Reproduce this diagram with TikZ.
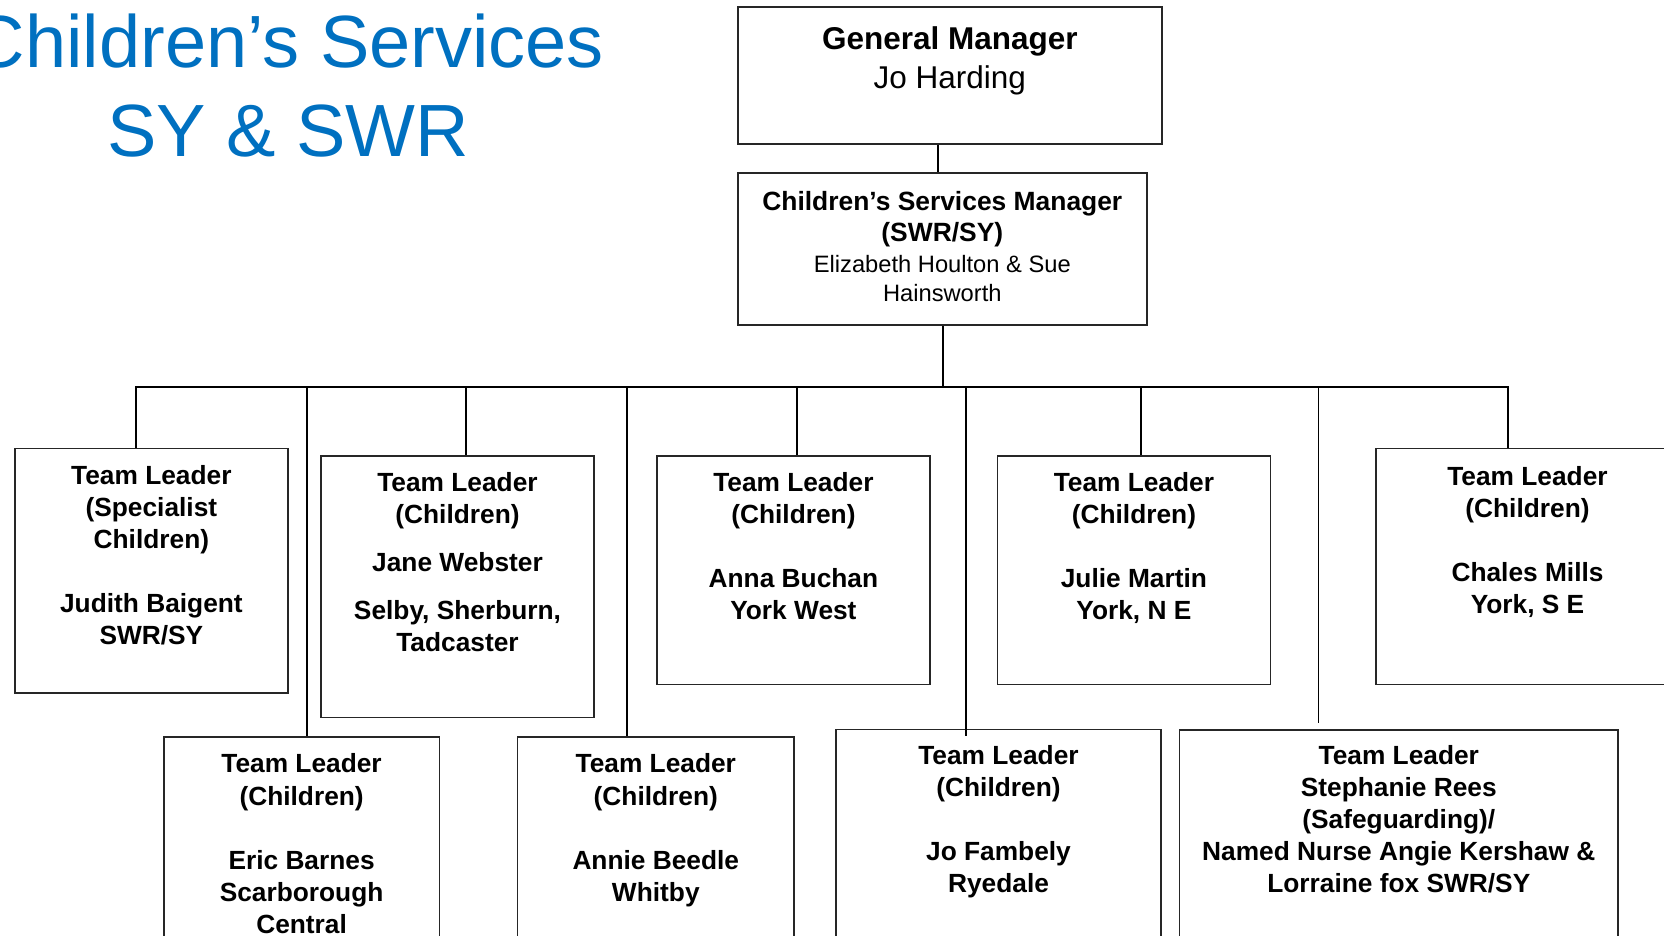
\documentclass[tikz,border=0pt]{standalone}
\usepackage{fontspec}
\setmainfont{Liberation Sans}
\usetikzlibrary{fit}
\definecolor{titleblue}{RGB}{0,112,192}
\tikzset{
  box/.style={draw=black!85, line width=0.8pt, inner sep=0pt},
  conn/.style={draw=black, line width=0.85pt},
  thickconn/.style={draw=black, line width=1.2pt},
  tltext/.style={font=\bfseries\fontsize{13.15pt}{16.05pt}\selectfont, align=center, anchor=north, inner sep=0pt},
  gmtext/.style={font=\fontsize{15.75pt}{19.6pt}\selectfont, align=center, anchor=north, inner sep=0pt},
  csmbold/.style={font=\bfseries\fontsize{13.2pt}{15.6pt}\selectfont, align=center, anchor=north, inner sep=0pt},
  csmreg/.style={font=\fontsize{11.85pt}{14.6pt}\selectfont, align=center, anchor=north, inner sep=0pt},
  titletext/.style={font=\fontsize{37pt}{44.65pt}\selectfont, text=titleblue, align=center, anchor=north, inner sep=0pt}
}
\begin{document}
\begin{tikzpicture}[x=0.5pt,y=-0.5pt,line join=miter]
\useasboundingbox (0,0) rectangle (1664,936);
\clip (0,0) rectangle (1664,936);

% title
\node[titletext] (title) at (288,13) {Children’s Services\\SY \& SWR};

% top boxes
\node[box, fit={(737.7,7.3) (1162,144)}] (GM) {};
\node[gmtext] (GMt) at (949.8,26.5) {{\bfseries General Manager}\\Jo Harding};

\node[box, fit={(738,173.3) (1146.7,325)}] (CSM) {};
\node[csmbold] (CSMt) at (942.3,191) {Children’s Services Manager\\(SWR/SY)};
\node[csmreg] (CSMn) at (942.3,254.5) {Elizabeth Houlton \& Sue\\Hainsworth};

% row 1 boxes
\node[box, fit={(14.7,448.3) (288,692.7)}] (A) {};
\node[box, fit={(321,455.7) (594,717.3)}] (B) {};
\node[box, fit={(656.7,455.7) (930,684.3)}] (C) {};
\node[box, fit={(997.3,455.7) (1270.5,684.3)}] (D) {};
\node[box, fit={(1376,448.3) (1679,684.3)}] (E) {};

% row 2 boxes
\node[box, fit={(163.7,736.7) (439.6,970)}] (F) {};
\node[box, fit={(517.6,736.7) (794,970)}] (G) {};
\node[box, fit={(836,729.3) (1161,970)}] (H) {};
\node[box, fit={(1179.5,730) (1618,970)}] (I) {};

% texts
\node[tltext] (At) at (151.4,465) {Team Leader\\(Specialist\\Children)\\[16.05pt]Judith Baigent\\SWR/SY};
\node[tltext] (Bt) at (457.5,472) {Team Leader\\(Children)\\[8pt]Jane Webster\\[8pt]Selby, Sherburn,\\Tadcaster};
\node[tltext] (Ct) at (793.4,472) {Team Leader\\(Children)\\[16.05pt]Anna Buchan\\York West};
\node[tltext] (Dt) at (1133.9,472) {Team Leader\\(Children)\\[16.05pt]Julie Martin\\York, N E};
\node[tltext] (Et) at (1527.5,466) {Team Leader\\(Children)\\[16.05pt]Chales Mills\\York, S E};
\node[tltext] (Ft) at (301.6,753.5) {Team Leader\\(Children)\\[16.05pt]Eric Barnes\\Scarborough\\Central};
\node[tltext] (Gt) at (655.8,753.5) {Team Leader\\(Children)\\[16.05pt]Annie Beedle\\Whitby};
\node[tltext] (Ht) at (998.5,745) {Team Leader\\(Children)\\[16.05pt]Jo Fambely\\Ryedale};
\node[tltext] (It) at (1398.8,745) {Team Leader\\Stephanie Rees\\(Safeguarding)/\\Named Nurse Angie Kershaw \&\\Lorraine fox SWR/SY};

% connectors
\coordinate (busL) at (135.7,387.3);
\coordinate (busR) at (1508.3,387.3);
\coordinate (endH) at (966,736);
\coordinate (endI) at (1318.5,723);

\draw[conn] (GM.south -| 938,0) -- (CSM.north -| 938,0);
\draw[conn] (CSM.south -| 942.7,0) -- (busL -| 942.7,0);
\draw[conn] (A.north -| busL) -- (busL) -- (busR) -- (E.north -| busR);
\draw[conn] (busL -| 306.7,0) -- (F.north -| 306.7,0);
\draw[conn] (busL -| 466,0) -- (B.north -| 466,0);
\draw[conn] (busL -| 627,0) -- (G.north -| 627,0);
\draw[conn] (busL -| 797.3,0) -- (C.north -| 797.3,0);
\draw[thickconn] (busL -| endH) -- (endH);
\draw[conn] (busL -| 1141,0) -- (D.north -| 1141,0);
\draw[conn] (busL -| endI) -- (endI);
\end{tikzpicture}
\end{document}
